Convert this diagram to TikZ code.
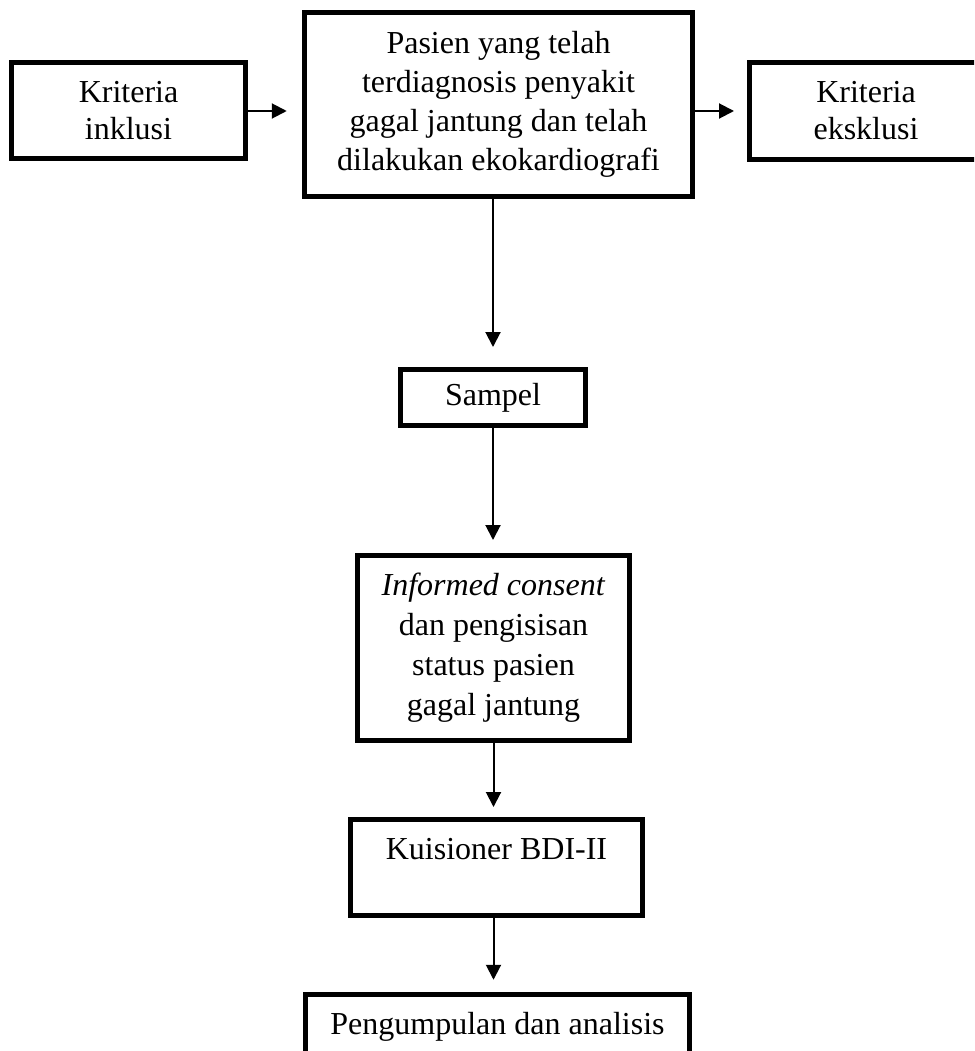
\documentclass[tikz,border=0pt]{standalone}
\usepackage{fontspec}
\setmainfont{Liberation Serif}
\usetikzlibrary{arrows.meta}
\begin{document}
\begin{tikzpicture}[x=1pt,y=-1pt,
  box/.style={draw, line width=5pt, inner sep=0pt, align=center,
    font=\fontsize{32}{39}\selectfont},
  arr/.style={-{Triangle[length=15pt,width=15pt]}, line width=2pt}]
\useasboundingbox (0,0) rectangle (974,1051);
\clip (0,0) rectangle (974,1051);
\node[box, minimum width=234pt, minimum height=96pt, font=\fontsize{32}{37}\selectfont] (ki) at (128.5,111) {Kriteria\\inklusi};
\node[box, minimum width=388.5pt, minimum height=184.5pt] (main) at (498.5,104.5)
  {Pasien yang telah\\terdiagnosis penyakit\\gagal jantung dan telah\\dilakukan ekokardiografi};
\node[box, minimum width=233pt, minimum height=97pt, font=\fontsize{32}{37}\selectfont] (ke) at (866,111) {Kriteria\\eksklusi};
\node[box, minimum width=185pt, minimum height=56pt] (sam) at (493,397.5) {Sampel};
\node[box, minimum width=272pt, minimum height=185pt, font=\fontsize{32}{40}\selectfont] (ic) at (493.5,648)
  {\textit{Informed consent}\\dan pengisisan\\status pasien\\gagal jantung};
\node[box, minimum width=292pt, minimum height=96pt, font=\fontsize{32}{38}\selectfont] (kq) at (496.5,867.5)
  {Kuisioner BDI-II\\\phantom{K}};
\node[box, minimum width=384pt, minimum height=137.5pt, font=\fontsize{32}{40}\selectfont] (pa) at (497.5,1063)
  {Pengumpulan dan analisis\\\phantom{P}\\\phantom{P}};
\draw[arr, shorten >=15pt] (ki.east) -- (ki.east -| main.west);
\draw[arr, shorten >=13pt] (main.east |- ke.west) -- (ke.west);
\draw[arr, shorten >=20pt] (main.south -| sam.north) -- (sam.north);
\draw[arr, shorten >=13pt] (sam.south) -- (sam.south |- ic.north);
\draw[arr, shorten >=10pt] (ic.south) -- (ic.south |- kq.north);
\draw[arr, shorten >=12pt] (ic.south |- kq.south) -- (ic.south |- pa.north);
\end{tikzpicture}
\end{document}
